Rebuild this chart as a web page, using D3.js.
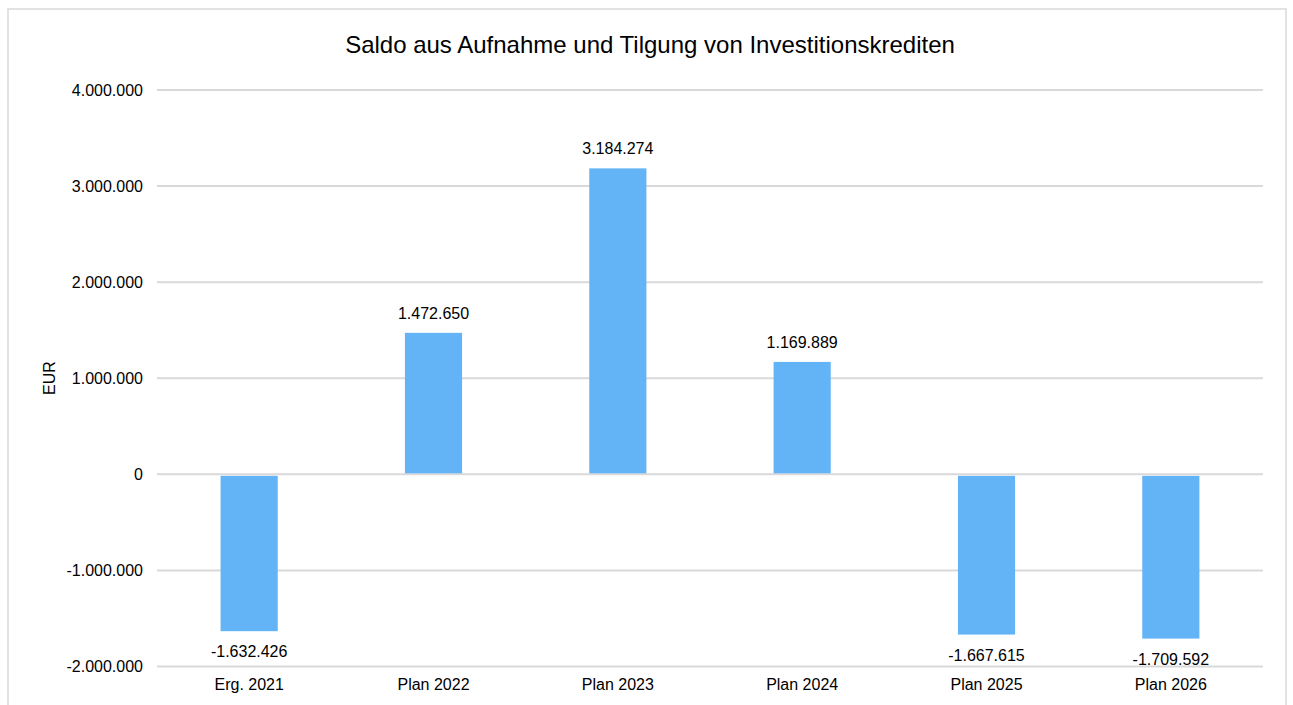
<!DOCTYPE html>
<html>
<head>
<meta charset="utf-8">
<script src="https://cdn.jsdelivr.net/npm/d3@7"></script>
<style>
  body { margin: 0; background: #fff; }
  svg text { font-family: "Liberation Sans", Arial, sans-serif; fill: #000; }
</style>
</head>
<body>
<svg id="chart" width="1293" height="705"></svg>
<script>
// Saldo aus Aufnahme und Tilgung von Investitionskrediten, EUR
var categories = ['Erg. 2021', 'Plan 2022', 'Plan 2023', 'Plan 2024', 'Plan 2025', 'Plan 2026']
var values = [-1632426, 1472650, 3184274, 1169889, -1667615, -1709592]
var yTicks = [-2000000, -1000000, 0, 1000000, 2000000, 3000000, 4000000]

var svg = d3.select('#chart')
var margin = {top: 90, right: 30, bottom: 39, left: 157}
var width = 1263 - margin.left
var height = 666.5 - margin.top
var FS = 16

// outer chart frame
svg.append('rect').attr('x', 8).attr('y', 9).attr('width', 1278).attr('height', 720)
  .attr('fill', 'none').attr('stroke', '#d9d9d9').attr('stroke-width', 1.5)

var g = svg.append('g').attr('transform', 'translate(' + margin.left + ',' + margin.top + ')')

var x = d3.scaleBand().domain(categories).range([0, width]).paddingInner(0.69).paddingOuter(0.345)
var y = d3.scaleLinear().domain([-2000000, 4000000]).range([height, 0])

// German thousands separator
var fmt = d3.formatLocale({decimal: ',', thousands: '.', grouping: [3], currency: ['', ' €']}).format(',d')
function fmtNum(d){ return fmt(d).replace('−', '-') }

// gridlines
g.selectAll('line.grid').data(yTicks).join('line').attr('class', 'grid')
  .attr('x1', 0).attr('x2', width).attr('y1', y).attr('y2', y)
  .attr('stroke', '#d9d9d9').attr('stroke-width', 2)

// bars
g.selectAll('rect.bar').data(values).join('rect').attr('class', 'bar')
  .attr('x', function(d, i){ return x(categories[i]) })
  .attr('width', x.bandwidth())
  .attr('y', function(d){ return d >= 0 ? y(d) : y(0) + 1.5 })
  .attr('height', function(d){ return d >= 0 ? y(0) - 1 - y(d) : y(d) - y(0) - 1.5 })
  .attr('fill', '#63b4f6')

// data labels, clipped to the plot area
svg.append('clipPath').attr('id', 'plotclip').append('rect')
  .attr('x', -20).attr('y', -20).attr('width', width + 40).attr('height', height + 19)
g.append('g').attr('clip-path', 'url(#plotclip)')
  .selectAll('text').data(values).join('text')
  .attr('x', function(d, i){ return x(categories[i]) + x.bandwidth() / 2 })
  .attr('y', function(d){ return d >= 0 ? y(d) - 14 : y(d) + 26 })
  .attr('text-anchor', 'middle').attr('font-size', FS)
  .text(fmtNum)

// y axis labels
var yAxis = d3.axisLeft(y).tickValues(yTicks).tickFormat(fmtNum).tickSize(0).tickPadding(14)
var ya = g.append('g').call(yAxis)
ya.select('.domain').remove()
ya.selectAll('text').attr('font-size', FS).attr('font-family', '"Liberation Sans", Arial, sans-serif').attr('fill', '#000')

// x axis labels
var xAxis = d3.axisBottom(x).tickSize(0).tickPadding(12)
var xa = g.append('g').attr('transform', 'translate(0,' + height + ')').call(xAxis)
xa.select('.domain').remove()
xa.selectAll('text').attr('font-size', FS).attr('font-family', '"Liberation Sans", Arial, sans-serif').attr('fill', '#000')

// axis title
svg.append('text').attr('transform', 'translate(55,378) rotate(-90)')
  .attr('text-anchor', 'middle').attr('font-size', FS).text('EUR')

// chart title
svg.append('text').attr('x', 650).attr('y', 53).attr('text-anchor', 'middle')
  .attr('font-size', 24).text('Saldo aus Aufnahme und Tilgung von Investitionskrediten')
</script>
</body>
</html>
